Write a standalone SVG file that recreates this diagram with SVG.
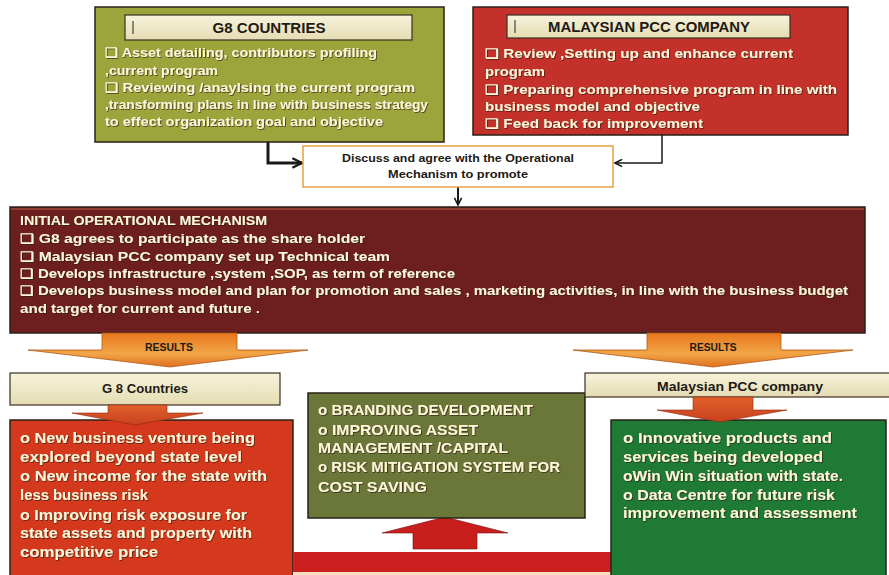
<svg xmlns="http://www.w3.org/2000/svg" width="889" height="575" viewBox="0 0 889 575">
  <defs>
    <style>
      .body { font-family: "Liberation Sans", Arial, sans-serif; font-weight: bold; fill: #fdf6d8; }
      .t13 { font-size: 13px; }
      .t14 { font-size: 14px; }
      .dark { font-family: "Liberation Sans", Arial, sans-serif; font-weight: bold; fill: #1e1a14; }
      .box { stroke: #2a2118; stroke-width: 1.5; }
      .bar { fill: url(#barGrad); stroke: #3a3020; stroke-width: 1.2; }
      .conn { fill: none; stroke: #1a1a1a; }
    </style>
    <linearGradient id="barGrad" x1="0" y1="0" x2="0" y2="1">
      <stop offset="0" stop-color="#f7f3dc"/>
      <stop offset="1" stop-color="#e4dcb2"/>
    </linearGradient>
    <linearGradient id="orangeGrad" x1="0" y1="0" x2="0" y2="1">
      <stop offset="0" stop-color="#e8761c"/>
      <stop offset="0.6" stop-color="#f2a648"/>
      <stop offset="1" stop-color="#e07020"/>
    </linearGradient>
    <linearGradient id="miniGrad" x1="0" y1="0" x2="0" y2="1">
      <stop offset="0" stop-color="#e0602a"/>
      <stop offset="1" stop-color="#c8401e"/>
    </linearGradient>
    <filter id="shadow" x="-5%" y="-20%" width="110%" height="140%">
      <feDropShadow dx="0.8" dy="0.8" stdDeviation="0.4" flood-color="#2a1a0a" flood-opacity="0.8"/>
    </filter>
    <marker id="chev" viewBox="0 0 10 10" refX="9" refY="5" markerWidth="9" markerHeight="9" markerUnits="userSpaceOnUse" orient="auto">
      <path d="M1,1 L9,5 L1,9" fill="none" stroke="#1a1a1a" stroke-width="1.8"/>
    </marker>
    <marker id="chevBig" viewBox="0 0 10 10" refX="9" refY="5" markerWidth="12" markerHeight="12" markerUnits="userSpaceOnUse" orient="auto">
      <path d="M1,1 L9,5 L1,9" fill="none" stroke="#1a1a1a" stroke-width="2"/>
    </marker>
  </defs>

  <rect width="889" height="575" fill="#ffffff"/>

  <!-- connectors between the top boxes and the discussion box -->
  <g id="connectors">
    <path class="conn" d="M268,142 V163 H302" stroke-width="3" marker-end="url(#chevBig)"/>
    <path class="conn" d="M662,135 V163 H615" stroke-width="1.5" marker-end="url(#chev)"/>
    <path class="conn" d="M458,187 V205" stroke-width="2" marker-end="url(#chev)"/>
  </g>

  <!-- G8 countries -->
  <g id="g8">
    <rect class="box" x="95" y="7" width="349" height="135" fill="#9ca53c"/>
    <rect class="bar" x="125" y="15" width="287" height="25"/>
    <line x1="133" y1="21" x2="133" y2="34" stroke="#222" stroke-width="1"/>
    <text class="dark" x="269" y="33" font-size="14" text-anchor="middle" textLength="113" lengthAdjust="spacingAndGlyphs">G8 COUNTRIES</text>
    <g class="body t13" filter="url(#shadow)">
      <text x="105" y="57" textLength="272" lengthAdjust="spacingAndGlyphs">❑  Asset detailing, contributors profiling</text>
      <text x="105" y="75" textLength="113" lengthAdjust="spacingAndGlyphs">,current program</text>
      <text x="105" y="92" textLength="310" lengthAdjust="spacingAndGlyphs">❑  Reviewing /anaylsing  the current program</text>
      <text x="105" y="109" textLength="323" lengthAdjust="spacingAndGlyphs">,transforming plans in line with business strategy</text>
      <text x="105" y="126" textLength="278" lengthAdjust="spacingAndGlyphs">to effect organization goal and objective</text>
    </g>
  </g>

  <!-- Malaysian PCC company -->
  <g id="pcc">
    <rect class="box" x="473" y="7" width="375" height="128" fill="#c4302a"/>
    <rect class="bar" x="507" y="15" width="283" height="23"/>
    <line x1="515" y1="20" x2="515" y2="33" stroke="#222" stroke-width="1"/>
    <text class="dark" x="649" y="32" font-size="14" text-anchor="middle" textLength="202" lengthAdjust="spacingAndGlyphs">MALAYSIAN PCC COMPANY</text>
    <g class="body t13" filter="url(#shadow)">
      <text x="485" y="58" textLength="308" lengthAdjust="spacingAndGlyphs">❑  Review ,Setting up and enhance current</text>
      <text x="485" y="76" textLength="60" lengthAdjust="spacingAndGlyphs">program</text>
      <text x="485" y="94" textLength="352" lengthAdjust="spacingAndGlyphs">❑ Preparing comprehensive  program in line with</text>
      <text x="485" y="111" textLength="215" lengthAdjust="spacingAndGlyphs">business model and objective</text>
      <text x="485" y="128" textLength="218" lengthAdjust="spacingAndGlyphs">❑ Feed back for improvement</text>
    </g>
  </g>

  <!-- discussion step -->
  <g id="discuss">
    <rect x="303" y="146" width="310" height="41" fill="#ffffff" stroke="#e8a040" stroke-width="1.5"/>
    <text class="dark" x="458" y="162" font-size="11" text-anchor="middle" textLength="232" lengthAdjust="spacingAndGlyphs">Discuss and agree with the Operational</text>
    <text class="dark" x="458" y="178" font-size="11" text-anchor="middle" textLength="140" lengthAdjust="spacingAndGlyphs">Mechanism  to promote</text>
  </g>

  <!-- initial operational mechanism -->
  <g id="mechanism">
    <rect class="box" x="10" y="207" width="855" height="126" fill="#6c1f1e"/>
    <line x1="11" y1="209" x2="864" y2="209" stroke="#a04a3a" stroke-width="1.5"/>
    <g class="body t13" filter="url(#shadow)">
      <text x="20" y="225" textLength="247" lengthAdjust="spacingAndGlyphs">INITIAL OPERATIONAL MECHANISM</text>
      <text x="20" y="243" textLength="345" lengthAdjust="spacingAndGlyphs">❑ G8  agrees  to participate as the share holder</text>
      <text x="20" y="261" textLength="370" lengthAdjust="spacingAndGlyphs">❑ Malaysian PCC company  set up Technical team</text>
      <text x="20" y="278" textLength="435" lengthAdjust="spacingAndGlyphs">❑  Develops infrastructure ,system ,SOP, as term of reference</text>
      <text x="20" y="295" textLength="828" lengthAdjust="spacingAndGlyphs">❑ Develops business model and plan for promotion and sales , marketing activities, in line with the business budget</text>
      <text x="20" y="313" textLength="240" lengthAdjust="spacingAndGlyphs">and target for current and future .</text>
    </g>
  </g>

  <!-- results arrows -->
  <g id="results-left">
    <path d="M102,333 H237 V350 H308 L170,367 L28,350 H102 Z" fill="url(#orangeGrad)" stroke="#b05a18" stroke-width="0.8"/>
    <text class="dark" x="169" y="351" font-size="10" text-anchor="middle" textLength="48" lengthAdjust="spacingAndGlyphs" fill="#3a2a1a">RESULTS</text>
  </g>
  <g id="results-right">
    <path d="M647,333 H781 V350 H853 L713,367 L573,350 H647 Z" fill="url(#orangeGrad)" stroke="#b05a18" stroke-width="0.8"/>
    <text class="dark" x="713" y="351" font-size="10" text-anchor="middle" textLength="47" lengthAdjust="spacingAndGlyphs" fill="#3a2a1a">RESULTS</text>
  </g>

  <!-- G 8 Countries results -->
  <g id="g8-results">
    <rect class="bar" x="10" y="373" width="270" height="32"/>
    <text class="dark" x="145" y="393" font-size="12" text-anchor="middle" textLength="86" lengthAdjust="spacingAndGlyphs">G 8 Countries</text>
    <rect class="box" x="10" y="420" width="283" height="160" fill="#d5391d"/>
    <path d="M108,405 H167 V413 H203 L135,425 L72,413 H108 Z" fill="url(#miniGrad)" stroke="#8a2a10" stroke-width="0.6"/>
    <g class="body t14" filter="url(#shadow)">
      <text x="20" y="443" textLength="235" lengthAdjust="spacingAndGlyphs">o New business venture being</text>
      <text x="20" y="462" textLength="222" lengthAdjust="spacingAndGlyphs">explored beyond state level</text>
      <text x="20" y="481" textLength="247" lengthAdjust="spacingAndGlyphs">o New income for the state with</text>
      <text x="20" y="500" textLength="128" lengthAdjust="spacingAndGlyphs">less business risk</text>
      <text x="20" y="520" textLength="227" lengthAdjust="spacingAndGlyphs">o Improving risk exposure for</text>
      <text x="20" y="538" textLength="232" lengthAdjust="spacingAndGlyphs">state assets and property with</text>
      <text x="20" y="557" textLength="138" lengthAdjust="spacingAndGlyphs">competitive price</text>
    </g>
  </g>

  <!-- shared outcomes -->
  <g id="shared">
    <rect x="293" y="572" width="318" height="3" fill="#f6dcc0"/>
    <rect x="293" y="552" width="318" height="20" fill="#cc2020"/>
    <path d="M413,549 V533 H382 L445,517 L508,533 H477 V549 Z" fill="#c81f1d" stroke="#7a1010" stroke-width="0.6"/>
    <rect class="box" x="308" y="393" width="277" height="125" fill="#6b7639"/>
    <g class="body t14" filter="url(#shadow)">
      <text x="318" y="415" textLength="215" lengthAdjust="spacingAndGlyphs">o BRANDING DEVELOPMENT</text>
      <text x="318" y="435" textLength="160" lengthAdjust="spacingAndGlyphs">o  IMPROVING ASSET</text>
      <text x="318" y="453" textLength="190" lengthAdjust="spacingAndGlyphs">MANAGEMENT /CAPITAL</text>
      <text x="318" y="472" textLength="242" lengthAdjust="spacingAndGlyphs">o RISK MITIGATION SYSTEM FOR</text>
      <text x="318" y="492" textLength="109" lengthAdjust="spacingAndGlyphs">COST SAVING</text>
    </g>
  </g>

  <!-- Malaysian PCC company results -->
  <g id="pcc-results">
    <rect class="bar" x="585" y="373" width="310" height="24"/>
    <text class="dark" x="740" y="391" font-size="12" text-anchor="middle" textLength="166" lengthAdjust="spacingAndGlyphs">Malaysian PCC company</text>
    <rect class="box" x="611" y="420" width="275" height="160" fill="#1f7a35"/>
    <path d="M693,397 H753 V410 H787 L720,422 L657,410 H693 Z" fill="url(#miniGrad)" stroke="#8a2a10" stroke-width="0.6"/>
    <g class="body t14" filter="url(#shadow)">
      <text x="623" y="443" textLength="209" lengthAdjust="spacingAndGlyphs">o  Innovative products and</text>
      <text x="623" y="462" textLength="200" lengthAdjust="spacingAndGlyphs">services being developed</text>
      <text x="623" y="481" textLength="220" lengthAdjust="spacingAndGlyphs">oWin Win situation with state.</text>
      <text x="623" y="500" textLength="212" lengthAdjust="spacingAndGlyphs">o Data Centre for future risk</text>
      <text x="623" y="518" textLength="234" lengthAdjust="spacingAndGlyphs">improvement and assessment</text>
    </g>
  </g>
</svg>
